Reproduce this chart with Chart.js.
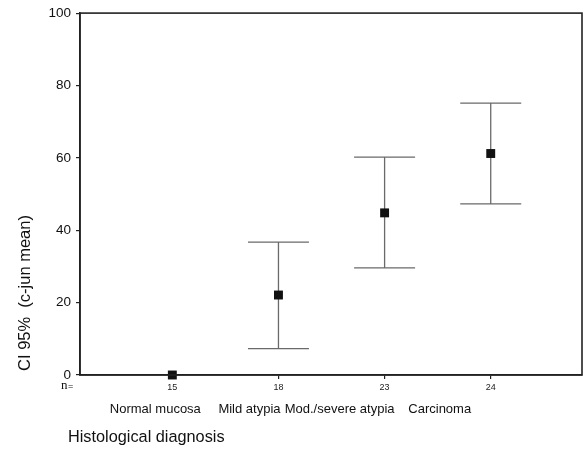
<!DOCTYPE html>
<html>
<head>
<meta charset="utf-8">
<script src="https://cdn.jsdelivr.net/npm/chart.js@4.4.0/dist/chart.umd.min.js"></script>
<style>
  html, body { margin: 0; padding: 0; background: #fff; }
  #wrap { width: 583px; height: 461px; position: relative; }
</style>
</head>
<body>
<div id="wrap"><canvas id="chart"></canvas></div>
<script>
  // Histological groups, sample sizes and 95% CI of c-jun mean
  const categories = ['Normal mucosa', 'Mild atypia', 'Mod./severe atypia', 'Carcinoma'];
  const counts = [15, 18, 23, 24];
  const means = [0, 22.1, 44.8, 61.2];
  const lower = [0, 7.3, 29.6, 47.3];
  const upper = [0, 36.7, 60.2, 75.1];
  const yTicks = [0, 20, 40, 60, 80, 100];

  const points = means.map((m, i) => ({ x: i + 1, y: m }));

  // names sit a bit left of the tick marks in the original
  const nameShift = [-17, -29, -45, -51];

  const extras = {
    id: 'extras',
    beforeDatasetsDraw(chart) {
      const ctx = chart.ctx;
      const xs = chart.scales.x;
      const ys = chart.scales.y;
      ctx.save();
      ctx.strokeStyle = '#6a6a6a';
      ctx.lineWidth = 1.3;
      lower.forEach((lo, i) => {
        const hi = upper[i];
        if (hi === lo) return;
        const px = xs.getPixelForValue(i + 1);
        const pl = ys.getPixelForValue(lo);
        const ph = ys.getPixelForValue(hi);
        ctx.beginPath();
        ctx.moveTo(px, pl); ctx.lineTo(px, ph);
        ctx.moveTo(px - 30.5, pl); ctx.lineTo(px + 30.5, pl);
        ctx.moveTo(px - 30.5, ph); ctx.lineTo(px + 30.5, ph);
        ctx.stroke();
      });
      ctx.restore();
    },
    afterDraw(chart) {
      const ctx = chart.ctx;
      const a = chart.chartArea;
      const xs = chart.scales.x;
      ctx.save();
      // frame
      ctx.strokeStyle = '#222';
      ctx.lineWidth = 1.6;
      ctx.strokeRect(a.left, a.top, a.right - a.left, a.bottom - a.top);

      // category names
      ctx.fillStyle = '#111';
      ctx.font = '13px "Liberation Sans", Arial, sans-serif';
      ctx.textAlign = 'center';
      ctx.textBaseline = 'middle';
      categories.forEach((c, i) => {
        ctx.fillText(c, xs.getPixelForValue(i + 1) + nameShift[i], 409);
      });

      // n=
      ctx.font = '13px "Liberation Serif", "DejaVu Serif", serif';
      ctx.textAlign = 'left';
      ctx.fillText('n', 61, 386);
      ctx.font = '9px "Liberation Sans", Arial, sans-serif';
      ctx.fillText('=', 68, 387);

      // x title
      ctx.font = '16.3px "Liberation Sans", Arial, sans-serif';
      ctx.fillText('Histological diagnosis', 68, 438);

      // y title
      ctx.translate(25, 293);
      ctx.rotate(-Math.PI / 2);
      ctx.textAlign = 'center';
      ctx.font = '16.5px "Liberation Sans", Arial, sans-serif';
      ctx.fillText('CI 95%  (c-jun mean)', 0, 0);
      ctx.restore();
    }
  };

  new Chart(document.getElementById('chart'), {
    type: 'scatter',
    data: {
      datasets: [{
        data: points,
        clip: false,
        pointStyle: 'rect',
        pointRadius: 6.3,
        pointBackgroundColor: '#111',
        pointBorderColor: '#111',
        pointBorderWidth: 0
      }]
    },
    options: {
      responsive: true,
      maintainAspectRatio: false,
      animation: false,
      layout: { autoPadding: false, padding: { top: 13, right: 1, left: 0, bottom: 0 } },
      plugins: {
        legend: { display: false },
        tooltip: { enabled: false }
      },
      scales: {
        x: {
          type: 'linear',
          min: 0.13,
          max: 4.86,
          afterBuildTicks(scale) {
            scale.ticks = counts.map((c, i) => ({ value: i + 1 }));
          },
          afterFit(scale) { scale.height = 86; },
          grid: { drawOnChartArea: false, drawTicks: true, tickLength: 4, color: '#222', lineWidth: 1.2 },
          border: { display: true, color: '#222', width: 1.6 },
          ticks: {
            color: '#222',
            padding: 3,
            maxRotation: 0,
            font: { family: '"Liberation Sans", Arial, sans-serif', size: 9 },
            callback: (v) => counts[Math.round(v) - 1]
          }
        },
        y: {
          min: 0,
          max: 100,
          afterBuildTicks(scale) {
            scale.ticks = yTicks.map(v => ({ value: v }));
          },
          afterFit(scale) { scale.width = 80; },
          grid: { drawOnChartArea: false, drawTicks: true, tickLength: 4, color: '#222', lineWidth: 1.2 },
          border: { display: true, color: '#222', width: 1.6 },
          ticks: {
            color: '#111',
            padding: 5,
            font: { family: '"Liberation Sans", Arial, sans-serif', size: 13.5 }
          }
        }
      }
    },
    plugins: [extras]
  });
</script>
</body>
</html>
